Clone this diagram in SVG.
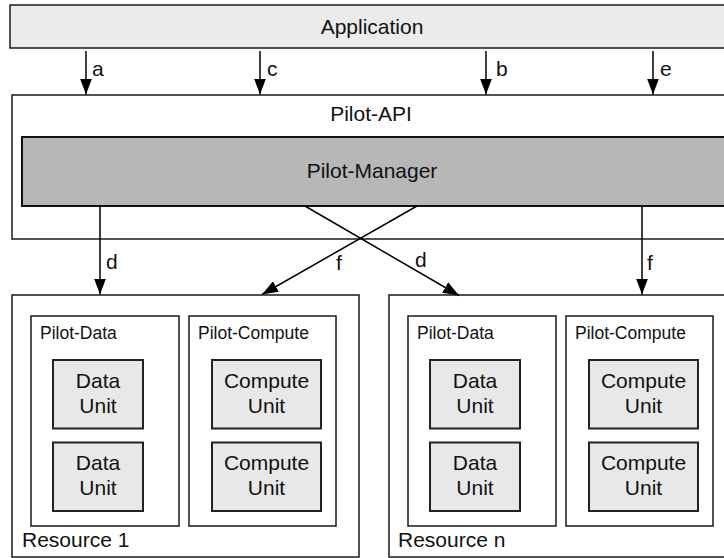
<svg xmlns="http://www.w3.org/2000/svg" width="724" height="558" viewBox="0 0 724 558">
  <style>
    text { font-family: "Liberation Sans", Arial, Helvetica, sans-serif; fill: #111; }
    .big { font-size: 21px; }
    .mid { font-size: 17.5px; }
    .mid-c { text-anchor: middle; }
    .box { fill: #fff; stroke: #1a1a1a; stroke-width: 1.5; }
    .app { fill: #ebebeb; stroke: #1a1a1a; stroke-width: 1.5; }
    .mgr { fill: #b7b7b7; stroke: #111; stroke-width: 2; }
    .unit { fill: #e8e8e8; stroke: #222; stroke-width: 2; }
    .edge { stroke: #000; stroke-width: 1.5; fill: none; marker-end: url(#arrow); }
  </style>
  <defs>
    <marker id="arrow" viewBox="0 0 16 12" refX="16" refY="6" markerWidth="16" markerHeight="12" markerUnits="userSpaceOnUse" orient="auto">
      <path d="M0,0 L16,6 L0,12 z" fill="#000"/>
    </marker>
  </defs>

  <rect width="724" height="558" fill="#fff"/>

  <!-- top layer -->
  <g id="application">
    <rect class="app" x="10" y="5" width="730" height="43"/>
    <text class="big mid-c" x="372" y="34">Application</text>
  </g>

  <g id="pilot-api">
    <rect class="box" x="12" y="95" width="728" height="144"/>
    <text class="big mid-c" x="371" y="121">Pilot-API</text>
  </g>

  <g id="pilot-manager">
    <rect class="mgr" x="22" y="137" width="718" height="69"/>
    <text class="big mid-c" x="372" y="178">Pilot-Manager</text>
  </g>

  <!-- Resource 1 -->
  <g id="resource-1">
    <rect class="box" x="12" y="295" width="347" height="262"/>
    <text class="big" x="22" y="547">Resource 1</text>
    <g id="pilot-data-1">
      <rect class="box" x="31" y="316" width="148" height="210"/>
      <text class="mid" x="40" y="339">Pilot-Data</text>
      <g id="data-unit-1a">
        <rect class="unit" x="53" y="360" width="90" height="68.5"/>
        <text class="big mid-c" x="98" y="388">Data</text>
        <text class="big mid-c" x="98" y="413">Unit</text>
      </g>
      <g id="data-unit-1b">
        <rect class="unit" x="53" y="442.5" width="90" height="68.5"/>
        <text class="big mid-c" x="98" y="470">Data</text>
        <text class="big mid-c" x="98" y="495">Unit</text>
      </g>
    </g>
    <g id="pilot-compute-1">
      <rect class="box" x="189" y="316" width="147" height="210"/>
      <text class="mid" x="198" y="339">Pilot-Compute</text>
      <g id="compute-unit-1a">
        <rect class="unit" x="212" y="360" width="109" height="68.5"/>
        <text class="big mid-c" x="266.5" y="388">Compute</text>
        <text class="big mid-c" x="266.5" y="413">Unit</text>
      </g>
      <g id="compute-unit-1b">
        <rect class="unit" x="212" y="442.5" width="109" height="68.5"/>
        <text class="big mid-c" x="266.5" y="470">Compute</text>
        <text class="big mid-c" x="266.5" y="495">Unit</text>
      </g>
    </g>
  </g>

  <!-- Resource n -->
  <g id="resource-n">
    <rect class="box" x="389" y="295" width="347" height="262"/>
    <text class="big" x="398" y="547">Resource n</text>
    <g id="pilot-data-n">
      <rect class="box" x="408" y="316" width="148" height="210"/>
      <text class="mid" x="417" y="339">Pilot-Data</text>
      <g id="data-unit-na">
        <rect class="unit" x="430" y="360" width="90" height="68.5"/>
        <text class="big mid-c" x="475" y="388">Data</text>
        <text class="big mid-c" x="475" y="413">Unit</text>
      </g>
      <g id="data-unit-nb">
        <rect class="unit" x="430" y="442.5" width="90" height="68.5"/>
        <text class="big mid-c" x="475" y="470">Data</text>
        <text class="big mid-c" x="475" y="495">Unit</text>
      </g>
    </g>
    <g id="pilot-compute-n">
      <rect class="box" x="566" y="316" width="147" height="210"/>
      <text class="mid" x="575" y="339">Pilot-Compute</text>
      <g id="compute-unit-na">
        <rect class="unit" x="589" y="360" width="109" height="68.5"/>
        <text class="big mid-c" x="643.5" y="388">Compute</text>
        <text class="big mid-c" x="643.5" y="413">Unit</text>
      </g>
      <g id="compute-unit-nb">
        <rect class="unit" x="589" y="442.5" width="109" height="68.5"/>
        <text class="big mid-c" x="643.5" y="470">Compute</text>
        <text class="big mid-c" x="643.5" y="495">Unit</text>
      </g>
    </g>
  </g>

  <!-- connectors -->
  <g id="connectors">
    <line class="edge" x1="86" y1="51" x2="86" y2="94.5"/>
    <line class="edge" x1="260" y1="51" x2="260" y2="94.5"/>
    <line class="edge" x1="486" y1="51" x2="486" y2="94.5"/>
    <line class="edge" x1="653" y1="51" x2="653" y2="94.5"/>
    <line class="edge" x1="100" y1="206" x2="100" y2="294.5"/>
    <line class="edge" x1="305" y1="206" x2="459" y2="295.5"/>
    <line class="edge" x1="417" y1="206" x2="262" y2="294.5"/>
    <line class="edge" x1="642" y1="206" x2="642" y2="294.5"/>
    <text class="big" x="92" y="76">a</text>
    <text class="big" x="267" y="76">c</text>
    <text class="big" x="496" y="76">b</text>
    <text class="big" x="660" y="76">e</text>
    <text class="big" x="106" y="269">d</text>
    <text class="big" x="336" y="270">f</text>
    <text class="big" x="415" y="267">d</text>
    <text class="big" x="647" y="270">f</text>
  </g>
</svg>
